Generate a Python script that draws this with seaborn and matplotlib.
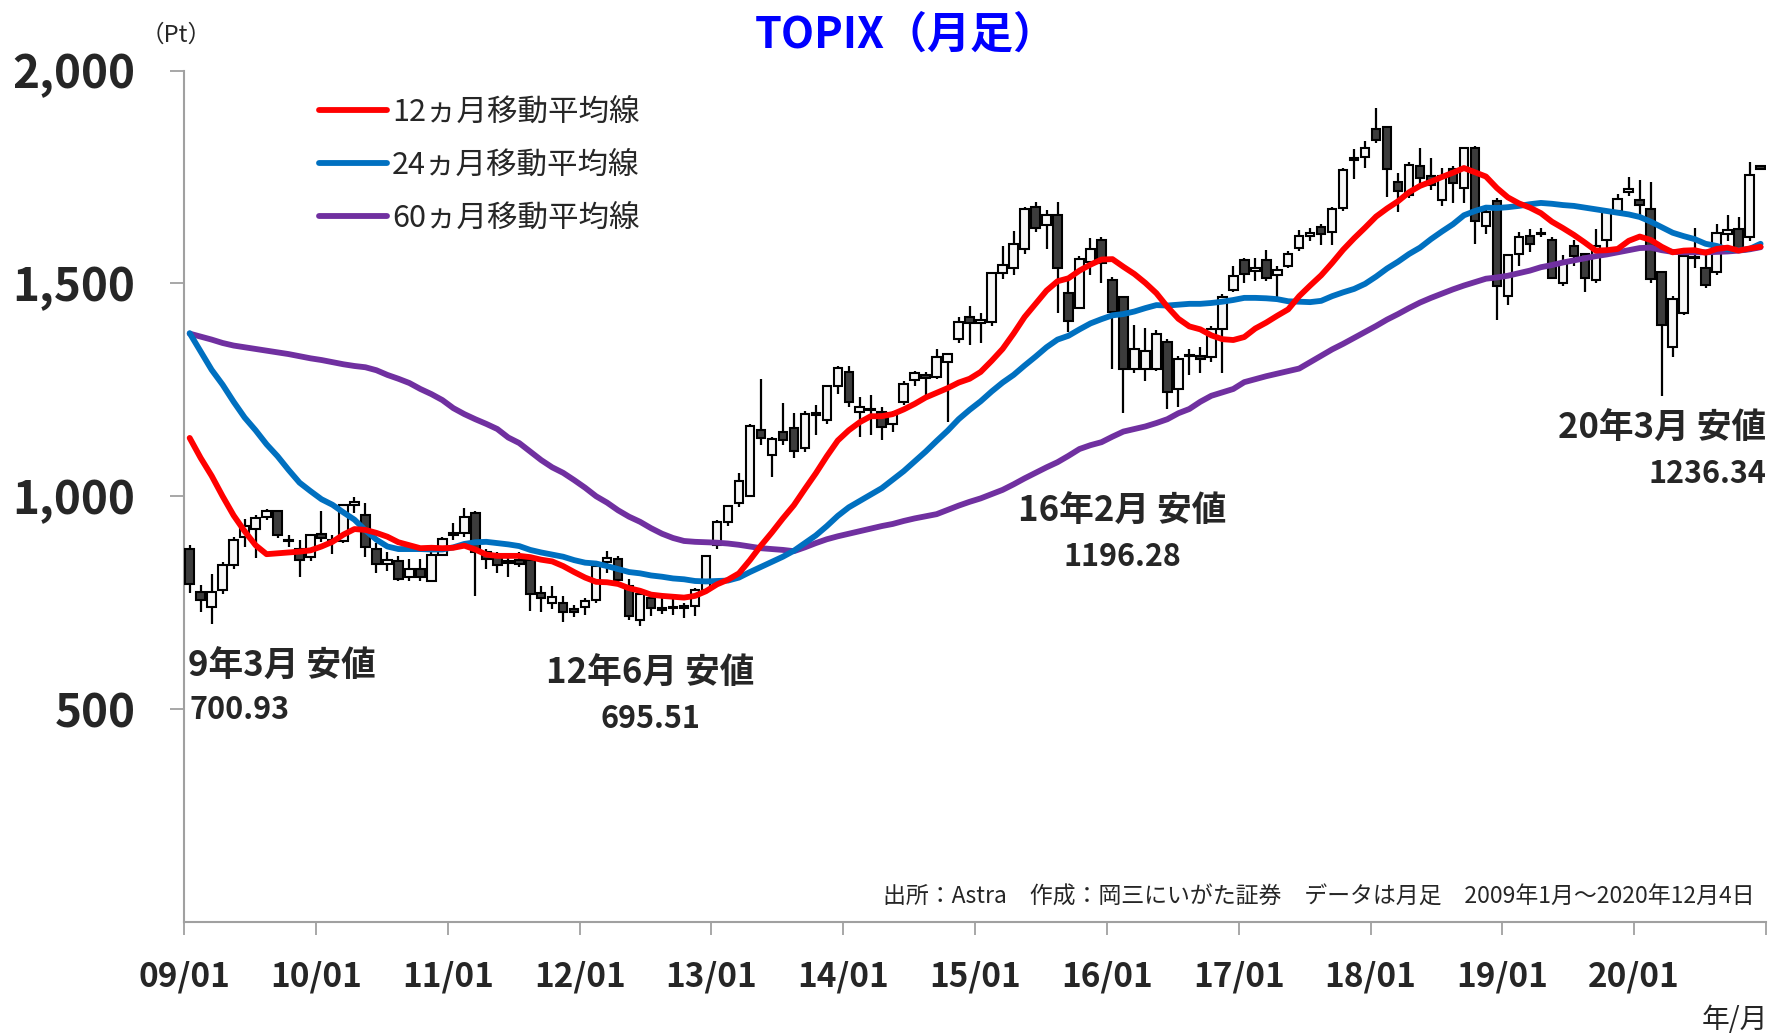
import numpy as np
import pandas as pd
import matplotlib
matplotlib.use("Agg")
import matplotlib.pyplot as plt
import seaborn as sns

# TOPIX monthly candles, 2009/01 - 2020/12
open_ = [
    877, 776, 740, 780, 838, 905, 923, 952, 966, 898, 877, 858,
    912, 895, 894, 979, 955, 877, 841, 848, 810, 830, 800, 863,
    914, 914, 961, 870, 863, 844, 851, 851, 773, 750, 750, 735,
    740, 757, 845, 853, 790, 710, 760, 737, 740, 737, 742, 781,
    886, 940, 985, 1001, 1156, 1098, 1150, 1161, 1114, 1192, 1178, 1258,
    1293, 1199, 1205, 1199, 1170, 1222, 1272, 1285, 1281, 1316, 1370, 1422,
    1407, 1410, 1525, 1535, 1580, 1680, 1638, 1660, 1478, 1443, 1550, 1603,
    1507, 1467, 1298, 1300, 1300, 1363, 1251, 1330, 1330, 1328, 1394, 1485,
    1554, 1528, 1554, 1520, 1542, 1584, 1612, 1633, 1620, 1676, 1791, 1798,
    1863, 1868, 1737, 1707, 1775, 1752, 1697, 1768, 1723, 1819, 1634, 1693,
    1471, 1568, 1612, 1615, 1603, 1500, 1587, 1568, 1507, 1603, 1669, 1715,
    1697, 1674, 1526, 1351, 1431, 1560, 1537, 1526, 1615, 1627, 1608, 1775,
]
high = [
    886, 792, 818, 846, 905, 946, 955, 970, 968, 910, 897, 912,
    965, 910, 982, 998, 985, 890, 870, 860, 852, 852, 870, 905,
    938, 973, 965, 875, 870, 860, 870, 855, 790, 790, 765, 745,
    762, 840, 872, 860, 806, 780, 775, 760, 760, 750, 785, 862,
    944, 980, 1055, 1170, 1276, 1140, 1220, 1196, 1200, 1215, 1262, 1305,
    1306, 1232, 1239, 1210, 1200, 1270, 1295, 1293, 1345, 1336, 1420, 1446,
    1431, 1527, 1589, 1624, 1680, 1692, 1672, 1692, 1510, 1565, 1606, 1610,
    1515, 1470, 1403, 1395, 1390, 1370, 1330, 1345, 1350, 1400, 1475, 1540,
    1560, 1560, 1578, 1540, 1575, 1626, 1630, 1640, 1680, 1770, 1815, 1834,
    1911, 1870, 1760, 1785, 1817, 1795, 1772, 1775, 1821, 1822, 1675, 1700,
    1570, 1620, 1627, 1630, 1608, 1566, 1603, 1570, 1627, 1672, 1709, 1749,
    1744, 1737, 1530, 1470, 1570, 1631, 1570, 1640, 1660, 1655, 1784, 1778,
]
low = [
    773, 729, 700.93, 770, 830, 880, 856, 945, 903, 880, 811, 848,
    893, 864, 890, 960, 858, 820, 825, 800, 800, 800, 798, 860,
    898, 905, 766, 830, 820, 810, 835, 730, 729, 735, 705, 716,
    720, 750, 820, 790, 710, 695.51, 718, 723, 722, 715, 718, 775,
    875, 930, 975, 1000, 1120, 1045, 1120, 1090, 1105, 1145, 1170, 1240,
    1210, 1140, 1145, 1133, 1150, 1215, 1260, 1234, 1275, 1175, 1360, 1356,
    1361, 1400, 1510, 1520, 1570, 1620, 1580, 1430, 1385, 1440, 1520, 1500,
    1300, 1196.28, 1290, 1270, 1295, 1204, 1210, 1285, 1290, 1315, 1290, 1480,
    1500, 1505, 1505, 1469, 1535, 1575, 1600, 1591, 1591, 1670, 1745, 1770,
    1830, 1702, 1668, 1700, 1730, 1720, 1681, 1690, 1690, 1592, 1615, 1415,
    1450, 1540, 1573, 1610, 1510, 1495, 1540, 1480, 1500, 1580, 1660, 1705,
    1660, 1500, 1236.34, 1326, 1425, 1537, 1490, 1520, 1600, 1580, 1600, 1768,
]
close = [
    794, 757, 774, 838, 898, 930, 950, 965, 910, 894, 850, 908,
    901, 894, 979, 987, 880, 841, 850, 805, 830, 811, 861, 899,
    910, 951, 869, 852, 838, 849, 841, 771, 761, 764, 728, 729,
    755, 836, 854, 804, 719, 770, 737, 732, 737, 742, 781, 860,
    940, 976, 1035, 1165, 1136, 1134, 1132, 1106, 1194, 1194, 1259, 1302,
    1221, 1210, 1203, 1162, 1195, 1263, 1289, 1278, 1326, 1334, 1410, 1408,
    1415, 1524, 1543, 1593, 1674, 1630, 1660, 1537, 1411, 1558, 1580, 1547,
    1432, 1298, 1347, 1341, 1380, 1246, 1323, 1329, 1323, 1393, 1469, 1518,
    1522, 1535, 1513, 1532, 1568, 1612, 1619, 1617, 1675, 1766, 1792, 1818,
    1837, 1768, 1716, 1777, 1747, 1731, 1753, 1735, 1817, 1646, 1667, 1494,
    1567, 1608, 1592, 1618, 1512, 1551, 1565, 1512, 1588, 1667, 1699, 1721,
    1684, 1511, 1403, 1464, 1564, 1559, 1496, 1618, 1625, 1584, 1754, 1769,
]

# moving averages as drawn on the chart
ma12 = [
    1137, 1090, 1048, 1000, 955, 918, 885, 864, 866, 868, 870, 873,
    882, 893, 910, 923, 921, 914, 905, 892, 885, 878, 879, 878,
    879, 884, 875, 863, 860, 860, 860, 857, 851, 847, 836, 822,
    809, 799, 798, 794, 784, 778, 769, 766, 764, 762, 766, 777,
    793, 804, 819, 850, 884, 915, 948, 979, 1017, 1054, 1094, 1131,
    1155, 1174, 1188, 1188, 1193, 1204, 1217, 1232, 1243, 1254, 1267, 1276,
    1292, 1318, 1346, 1382, 1421, 1452, 1483, 1505, 1512, 1530, 1544, 1556,
    1557, 1539, 1522, 1501, 1477, 1445, 1417, 1399, 1392, 1378, 1369, 1367,
    1374, 1394, 1408, 1424, 1439, 1470, 1495, 1519, 1548, 1579, 1606, 1631,
    1657, 1676, 1693, 1714, 1729, 1739, 1750, 1760, 1771, 1761, 1751, 1724,
    1702, 1688, 1678, 1665, 1645, 1630, 1614, 1596, 1577, 1578, 1581, 1600,
    1610, 1602, 1586, 1573, 1577, 1578, 1572, 1581, 1584, 1577, 1582, 1586,
]
ma24 = [
    1383, 1340, 1297, 1262, 1222, 1185, 1155, 1122, 1094, 1062, 1032, 1012,
    993, 980, 962, 945, 920, 898, 882, 876, 876, 876, 875, 875,
    880, 888, 892, 893, 890, 887, 883, 874, 868, 863, 858, 850,
    844, 842, 836, 829, 822, 819, 814, 811, 807, 805, 801, 800,
    801, 802, 809, 822, 834, 846, 858, 872, 890, 908, 930, 954,
    974, 989, 1004, 1019, 1039, 1059, 1082, 1105, 1130, 1154, 1181, 1203,
    1223, 1246, 1267, 1285, 1307, 1328, 1350, 1368, 1377, 1392, 1406, 1416,
    1425, 1428, 1434, 1442, 1449, 1448, 1450, 1452, 1452, 1454, 1457, 1461,
    1466, 1466, 1465, 1463, 1458, 1457, 1456, 1459, 1470, 1479, 1487, 1499,
    1516, 1535, 1551, 1569, 1584, 1604, 1622, 1639, 1660, 1670, 1678, 1677,
    1679, 1682, 1686, 1689, 1687, 1684, 1682, 1678, 1674, 1670, 1666, 1662,
    1656, 1645, 1632, 1619, 1611, 1604, 1593, 1588, 1580, 1578, 1581, 1593,
]
ma60 = [
    1382, 1375, 1368, 1360, 1354, 1350, 1346, 1342, 1338, 1334, 1329, 1324,
    1320, 1315, 1310, 1306, 1303, 1296, 1285, 1276, 1266, 1252, 1240, 1226,
    1207, 1193, 1181, 1170, 1158, 1138, 1125, 1105, 1085, 1068, 1055, 1038,
    1020, 1000, 985, 967, 952, 940, 925, 912, 902, 895, 893, 892,
    891, 889, 886, 882, 878, 876, 874, 871, 880, 890, 899, 906,
    912, 918, 924, 930, 935, 942, 948, 953, 958, 968, 978, 987,
    995, 1005, 1015, 1028, 1042, 1055, 1068, 1080, 1095, 1111, 1120, 1127,
    1140, 1152, 1158, 1164, 1172, 1181, 1195, 1205, 1222, 1236, 1244, 1252,
    1268, 1275, 1282, 1288, 1294, 1300, 1315, 1330, 1345, 1358, 1372, 1386,
    1400, 1415, 1428, 1442, 1455, 1466, 1476, 1486, 1495, 1503, 1511, 1514,
    1518, 1524, 1530, 1538, 1543, 1549, 1554, 1559, 1564, 1568, 1573, 1578,
    1583, 1584, 1578, 1574, 1573, 1573, 1573, 1574, 1575, 1577, 1580, 1585,
]

year_labels = ['09/01', '10/01', '11/01', '12/01', '13/01', '14/01',
               '15/01', '16/01', '17/01', '18/01', '19/01', '20/01']
ma_labels = ['12ヵ月移動平均線', '24ヵ月移動平均線', '60ヵ月移動平均線']
ma_colors = ['#FF0000', '#0070C0', '#7030A0']

sns.set_theme(style='white')
plt.rcParams['font.family'] = ['Noto Sans CJK JP', 'DejaVu Sans']

df = pd.DataFrame({'open': open_, 'high': high, 'low': low, 'close': close,
                   'ma12': ma12, 'ma24': ma24, 'ma60': ma60})
df['x'] = np.arange(len(df)) + 0.5

fig = plt.figure(figsize=(17.83, 10.34), dpi=100)
ax = fig.add_axes([0.1033, 0.1083, 0.8872, 0.8235])

# candles
up = df['close'] >= df['open']
ax.vlines(df['x'], df['low'], df['high'], color='black', lw=1.6, zorder=2)
body_bottom = np.minimum(df['open'], df['close'])
body_height = np.maximum((df['close'] - df['open']).abs(), 3)
ax.bar(df['x'], body_height, bottom=body_bottom, width=0.78,
       color=np.where(up, '#F7F7F7', '#3C3C3C'), edgecolor='black',
       linewidth=1.5, zorder=3)

# moving averages
for col, color, label, z in zip(['ma60', 'ma24', 'ma12'], ma_colors[::-1],
                                ma_labels[::-1], [4, 5, 6]):
    sns.lineplot(data=df, x='x', y=col, color=color, lw=4.2, ax=ax,
                 label=label, zorder=z)

handles, labels = ax.get_legend_handles_labels()
ax.legend(handles[::-1], labels[::-1], loc='upper left', bbox_to_anchor=(0.085, 0.969),
          frameon=False, fontsize=22, handlelength=2.25, handletextpad=0.15,
          labelspacing=0.72, borderpad=0, borderaxespad=0)

ax.set_xlim(0, 144)
ax.set_ylim(0, 2000)
ax.set_xlabel('')
ax.set_ylabel('')
ax.set_xticks(np.arange(0, 145, 12))
ax.set_xticklabels(year_labels + [''], fontsize=24, fontweight='bold')
ax.set_yticks([500, 1000, 1500, 2000])
ax.set_yticklabels(['500', '1,000', '1,500', '2,000'], fontsize=33, fontweight='bold')
ax.tick_params(axis='x', bottom=True, length=9.5, width=1.3, color='#A0A0A0', pad=18)
ax.tick_params(axis='y', left=True, length=10, width=1.3, color='#A0A0A0', pad=25)
for side in ['top', 'right']:
    ax.spines[side].set_visible(False)
for side in ['left', 'bottom']:
    ax.spines[side].set_color('#A0A0A0')
    ax.spines[side].set_linewidth(1.5)

# low-point annotations
ax.text(0.35, 600, '9年3月 安値', fontsize=25, fontweight='bold', ha='left', va='center')
ax.text(0.5, 497, '700.93', fontsize=22, fontweight='bold', ha='left', va='center')
ax.text(42.4, 585, '12年6月 安値', fontsize=25, fontweight='bold', ha='center', va='center')
ax.text(42.4, 476, '695.51', fontsize=22, fontweight='bold', ha='center', va='center')
ax.text(85.4, 964, '16年2月 安値', fontsize=25, fontweight='bold', ha='center', va='center')
ax.text(85.4, 858, '1196.28', fontsize=22, fontweight='bold', ha='center', va='center')
ax.text(144, 1160, '20年3月 安値', fontsize=25, fontweight='bold', ha='right', va='center')
ax.text(144, 1053, '1236.34', fontsize=22, fontweight='bold', ha='right', va='center')

fig.text(0.508, 0.966, 'TOPIX（月足）', fontsize=31, fontweight='bold', color='#0000FF',
         ha='center', va='center')
fig.text(0.0988, 0.966, '（Pt）', fontsize=17, ha='center', va='center')
fig.text(0.984, 0.1325, '出所：Astra　作成：岡三にいがた証券　データは月足　2009年1月～2020年12月4日',
         fontsize=16.5, ha='right', va='center')
fig.text(0.9915, 0.0135, '年/月', fontsize=20, ha='right', va='center')

fig.savefig('out.png', dpi=100)
